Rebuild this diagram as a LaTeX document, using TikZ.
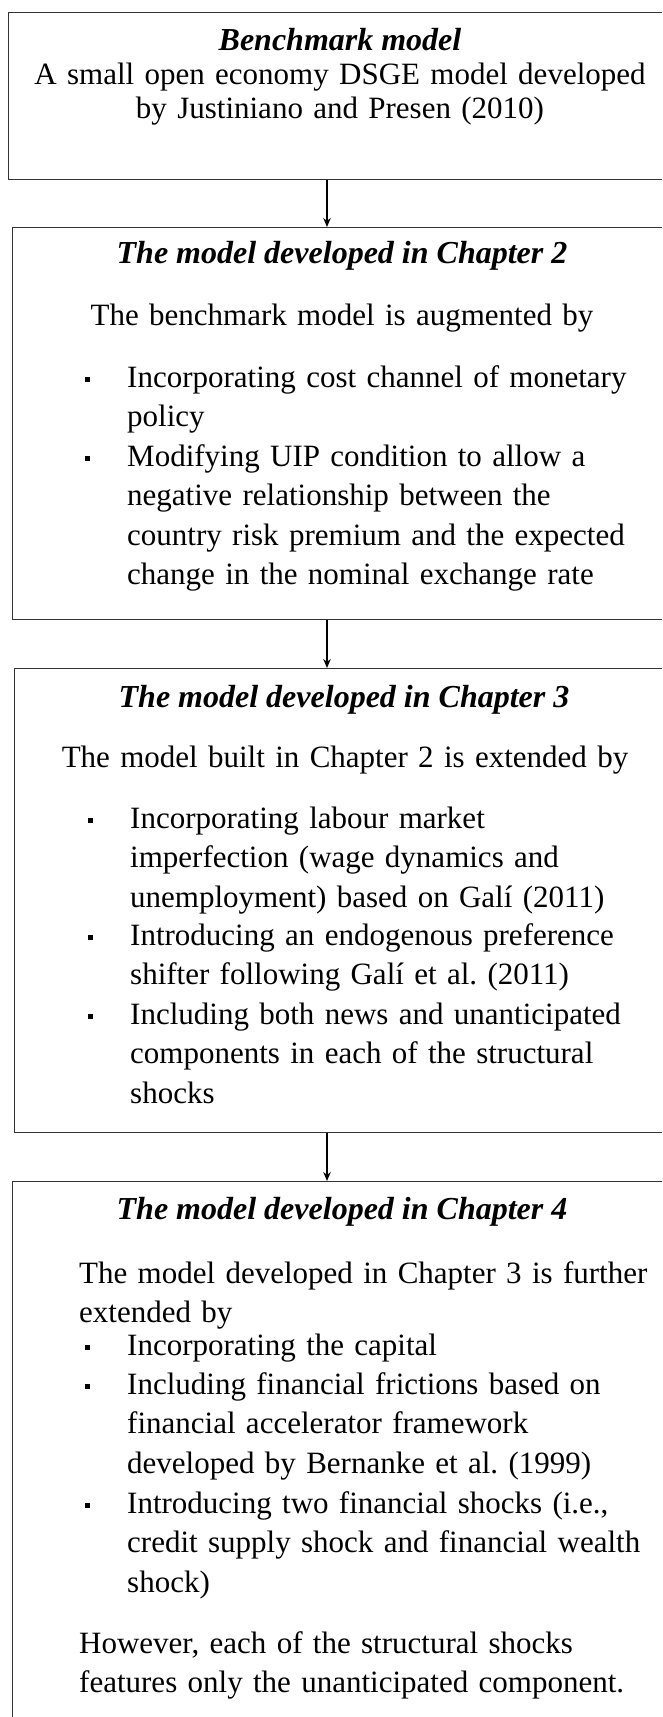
\documentclass[tikz,border=0pt]{standalone}
\usepackage{fontspec}
\setmainfont{Liberation Serif}
\usetikzlibrary{arrows.meta}

\newcommand{\sqbullet}{\llap{\rule[5pt]{5.5pt}{5.5pt}\hspace{37pt}}}

\begin{document}
\frenchspacing
\begin{tikzpicture}[x=1pt,y=-1pt,
    font=\fontsize{31}{39.5}\selectfont,
    modelbox/.style={draw=black!80, line width=1.2pt, anchor=north west, inner sep=0pt, minimum width=662pt},
    heading/.style={font=\fontsize{32}{39.5}\selectfont\bfseries\itshape, anchor=base, inner sep=0pt},
    bodytext/.style={anchor=base, inner sep=0pt, align=center, text width=640pt},
    leftitem/.style={anchor=base west, inner sep=0pt, align=left, text width=560pt},
    flow/.style={-{Stealth[length=9pt,width=7.5pt]}, line width=1.2pt}]
    \useasboundingbox (0,0) rectangle (662,1717);
    \clip (0,0) rectangle (662,1717);

    % Boxes
    \node[modelbox, minimum height=167pt] (bench) at (8,12) {};
    \node[modelbox, minimum height=392pt] (chtwo) at (12,227) {};
    \node[modelbox, minimum height=464pt] (chthree) at (14,668) {};
    \node[modelbox, minimum height=600pt] (chfour) at (12,1181) {};

    % Benchmark model
    \node[heading] (benchtitle) at (340,50) {Benchmark model};
    \node[bodytext, font=\fontsize{31}{34}\selectfont] (benchtext) at (340,84) {A small open economy DSGE model developed\\by Justiniano and Presen (2010)};

    % Chapter 2
    \node[heading] (twotitle) at (342,263) {The model developed in Chapter 2};
    \node[bodytext] (twointro) at (342,325) {The benchmark model is augmented by};
    \node[leftitem] (twoa) at (127,387) {\sqbullet Incorporating cost channel of monetary\\policy};
    \node[leftitem] (twob) at (127,466) {\sqbullet Modifying UIP condition to allow a\\negative relationship between the\\country risk premium and the expected\\change in the nominal exchange rate};

    % Chapter 3
    \node[heading] (threetitle) at (344,707) {The model developed in Chapter 3};
    \node[bodytext] (threeintro) at (345,767) {The model built in Chapter 2 is extended by};
    \node[leftitem] (threea) at (130,828) {\sqbullet Incorporating labour market\\imperfection (wage dynamics and\\unemployment) based on Galí (2011)};
    \node[leftitem] (threeb) at (130,945) {\sqbullet Introducing an endogenous preference\\shifter following Galí et al. (2011)};
    \node[leftitem] (threec) at (130,1024) {\sqbullet Including both news and unanticipated\\components in each of the structural\\shocks};

    % Chapter 4
    \node[heading] (fourtitle) at (342,1219) {The model developed in Chapter 4};
    \node[leftitem, text width=600pt] (fourintro) at (79,1283) {The model developed in Chapter 3 is further\\extended by};
    \node[leftitem] (foura) at (127,1355) {\sqbullet Incorporating the capital};
    \node[leftitem] (fourb) at (127,1394) {\sqbullet Including financial frictions based on\\financial accelerator framework\\developed by Bernanke et al. (1999)};
    \node[leftitem] (fourc) at (127,1513) {\sqbullet Introducing two financial shocks (i.e.,\\credit supply shock and financial wealth\\shock)};
    \node[leftitem, text width=600pt] (fournote) at (79,1653) {However, each of the structural shocks\\features only the unanticipated component.};

    % Arrows
    \coordinate (spine) at (327,0);
    \draw[flow] (bench.south -| spine) -- (chtwo.north -| spine);
    \draw[flow] (chtwo.south -| spine) -- (chthree.north -| spine);
    \draw[flow] (chthree.south -| spine) -- (chfour.north -| spine);
\end{tikzpicture}
\end{document}
